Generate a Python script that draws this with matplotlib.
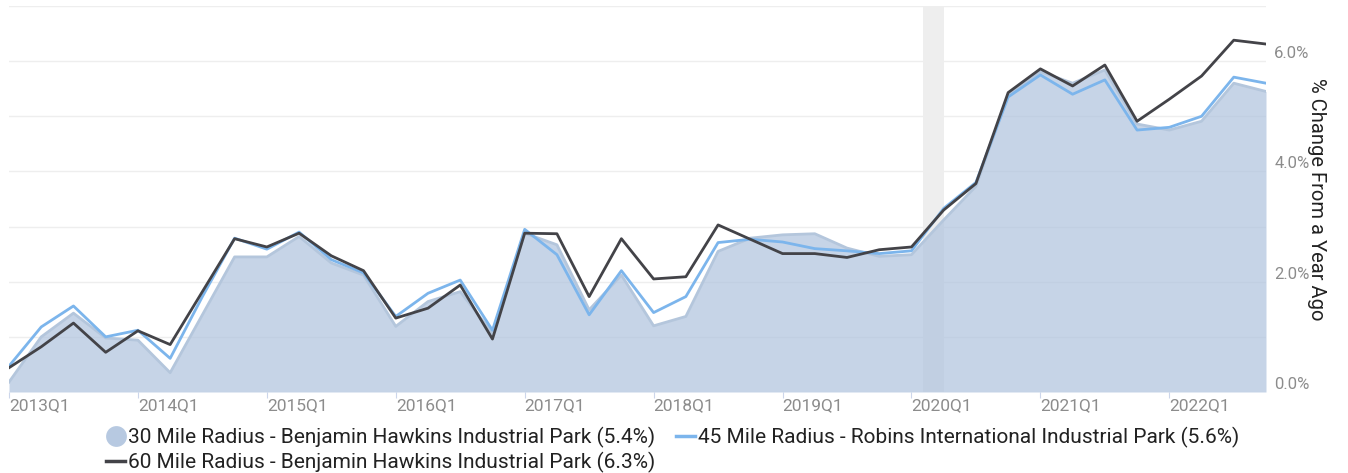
import matplotlib
matplotlib.use("Agg")
import matplotlib.pyplot as plt
from matplotlib.lines import Line2D
import numpy as np

plt.rcParams['font.family'] = ['Roboto', 'DejaVu Sans']

# quarters 2013Q1 .. 2022Q4
quarters = [f"{y}Q{q}" for y in range(2013, 2023) for q in range(1, 5)]
tick_labels = [f"{y}Q1" for y in range(2013, 2023)]

r30 = [0.18, 1.00, 1.43, 0.98, 0.94, 0.35, 1.40, 2.45, 2.45, 2.82,
       2.34, 2.12, 1.19, 1.64, 1.82, 1.07, 2.88, 2.67, 1.49, 2.12,
       1.20, 1.37, 2.55, 2.79, 2.85, 2.87, 2.61, 2.46, 2.49, 3.12,
       3.73, 5.39, 5.81, 5.60, 5.84, 4.86, 4.75, 4.91, 5.60, 5.45]
r45 = [0.47, 1.18, 1.56, 1.00, 1.12, 0.61, 1.73, 2.79, 2.59, 2.90,
       2.40, 2.16, 1.37, 1.79, 2.03, 1.12, 2.95, 2.49, 1.40, 2.20,
       1.44, 1.73, 2.71, 2.77, 2.72, 2.60, 2.56, 2.51, 2.56, 3.33,
       3.80, 5.35, 5.75, 5.40, 5.66, 4.75, 4.80, 5.00, 5.71, 5.60]
r60 = [0.44, 0.82, 1.25, 0.72, 1.11, 0.86, 1.82, 2.78, 2.63, 2.88,
       2.47, 2.20, 1.34, 1.52, 1.94, 0.96, 2.88, 2.87, 1.73, 2.78,
       2.05, 2.09, 3.03, 2.77, 2.51, 2.51, 2.44, 2.58, 2.63, 3.30,
       3.78, 5.43, 5.86, 5.55, 5.93, 4.91, 5.31, 5.73, 6.38, 6.31]

names = ["30 Mile Radius - Benjamin Hawkins Industrial Park (5.4%)",
         "45 Mile Radius - Robins International Industrial Park (5.6%)",
         "60 Mile Radius - Benjamin Hawkins Industrial Park (6.3%)"]

recession = (28.35, 29.0)

x = np.arange(len(quarters))

fig = plt.figure(figsize=(13.48, 4.73), dpi=100)
ax = fig.add_axes([9 / 1348, 1 - 392 / 473, (1266 - 9) / 1348, (392 - 6) / 473])

ax.axvspan(*recession, color="#eeeeee", zorder=0, lw=0)
ax.fill_between(x, 0, r30, color="#b0c4de", alpha=0.72, lw=0, zorder=1)
ax.plot(x, r30, color="#b4c6dc", lw=2, zorder=2)
ax.plot(x, r45, color="#7cb5ec", lw=2, zorder=3)
ax.plot(x, r60, color="#434348", lw=2, zorder=4)

ax.set_xlim(0, len(quarters) - 1)
ax.set_ylim(0, 7)

ax.yaxis.tick_right()
ax.set_yticks([0, 2, 4, 6], labels=["0.0%", "2.0%", "4.0%", "6.0%"])
ax.set_yticks(np.arange(0, 8, 1), minor=True)
ax.yaxis.grid(True, which="both", color="#eeeeee", lw=1)
ax.set_axisbelow(True)
ax.tick_params(axis="y", which="both", length=0, pad=6, labelsize=12, labelcolor="#8c8c8c")
for lab in ax.get_yticklabels():
    lab.set_verticalalignment("bottom")

ax.set_xticks(np.arange(0, len(quarters), 4), labels=tick_labels)
ax.tick_params(axis="x", length=4, color="#ccd6eb", labelsize=12.5, labelcolor="#8c8c8c", pad=0.5)
for lab in ax.get_xticklabels():
    lab.set_horizontalalignment("left")

for s in ax.spines.values():
    s.set_visible(False)

ax.yaxis.set_label_position("right")
ax.set_ylabel("% Change From a Year Ago", rotation=-90, fontsize=14.5, color="#222222", labelpad=12)

handles = [Line2D([], [], marker="o", ls="none", markersize=15, markerfacecolor="#b0c4de",
                  markeredgecolor="none", alpha=0.9),
           Line2D([], [], color="#434348", lw=2.5),
           Line2D([], [], color="#7cb5ec", lw=2.5)]
fig.legend(handles, [names[0], names[2], names[1]], ncol=2, loc="lower left",
           bbox_to_anchor=(98 / 1348, -0.018), frameon=False, fontsize=15,
           handlelength=0.9, handletextpad=0.15, columnspacing=1.0, labelspacing=0.2,
           labelcolor="#222222", borderaxespad=0.0)

fig.savefig("out.png", dpi=100)
